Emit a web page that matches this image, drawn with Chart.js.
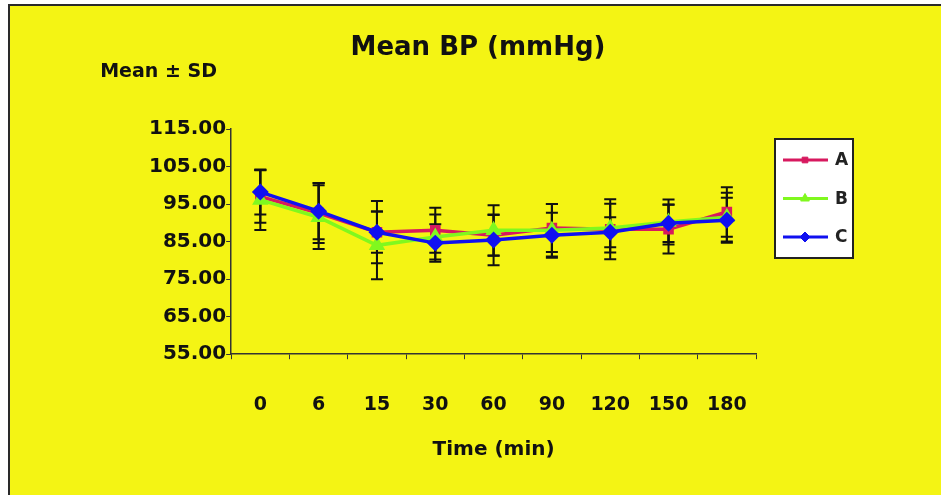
<!DOCTYPE html>
<html>
<head>
<meta charset="utf-8">
<script src="https://cdn.jsdelivr.net/npm/chart.js@4.4.0/dist/chart.umd.min.js"></script>
<style>
  body { margin: 0; background: #fff; }
  #frame {
    position: absolute; left: 8px; top: 4px;
    width: 931px; height: 489px;
    border-left: 2px solid #2a2a2a; border-top: 2px solid #2a2a2a;
    background: #f4f414;
  }
  canvas { display: block; }
</style>
</head>
<body>
<div id="frame"><canvas id="bpChart" width="931" height="489"></canvas></div>
<script>
// time points (min)
var labels = ['0', '6', '15', '30', '60', '90', '120', '150', '180'];

// mean BP per group
var meanA = [97.0, 92.6, 87.5, 88.0, 86.7, 88.6, 88.3, 88.3, 92.9];
var meanB = [96.1, 91.5, 84.0, 86.2, 88.0, 88.0, 88.6, 90.2, 91.5];
var meanC = [98.2, 93.1, 87.5, 84.6, 85.4, 86.7, 87.5, 89.9, 90.7];

// standard deviations
var sdA = [7.0, 8.0, 8.3, 6.0, 5.5, 6.4, 8.0, 6.5, 6.6];
var sdB = [8.0, 8.5, 9.0, 6.0, 6.7, 7.0, 6.5, 6.0, 6.5];
var sdC = [6.0, 7.5, 5.5, 5.0, 6.7, 6.0, 4.0, 5.0, 6.0];

var yMin = 55, yMax = 115, yStep = 10;

var FONT = "'DejaVu Sans', sans-serif";

// black +/- SD whiskers, drawn under the lines
var errorBars = {
  id: 'errorBars',
  beforeDatasetsDraw: function(chart) {
    var ctx = chart.ctx, y = chart.scales.y;
    ctx.save();
    ctx.strokeStyle = '#111';
    ctx.lineWidth = 2;
    chart.data.datasets.forEach(function(ds, di) {
      var meta = chart.getDatasetMeta(di);
      ds.data.forEach(function(v, i) {
        var px = meta.data[i].x;
        var top = y.getPixelForValue(v + ds.sd[i]);
        var bot = y.getPixelForValue(v - ds.sd[i]);
        ctx.beginPath();
        ctx.moveTo(px, top); ctx.lineTo(px, bot);
        ctx.moveTo(px - 6, top); ctx.lineTo(px + 6, top);
        ctx.moveTo(px - 6, bot); ctx.lineTo(px + 6, bot);
        ctx.stroke();
      });
    });
    ctx.restore();
  }
};

// title, "Mean ± SD" label and the boxed legend
var extras = {
  id: 'extras',
  afterDraw: function(chart) {
    var ctx = chart.ctx, area = chart.chartArea;
    ctx.save();
    ctx.fillStyle = '#111';
    ctx.textBaseline = 'middle';
    ctx.font = 'bold 26px ' + FONT;
    ctx.textAlign = 'center';
    ctx.fillText('Mean BP (mmHg)', 468, 42);

    ctx.font = 'bold 19px ' + FONT;
    ctx.textAlign = 'left';
    ctx.fillText('Mean ± SD', area.left - 131, 66);

    var bx = area.right + 19, by = area.top + 10, bw = 78, bh = 119;
    ctx.fillStyle = '#fff';
    ctx.fillRect(bx, by, bw, bh);
    ctx.strokeStyle = '#222';
    ctx.lineWidth = 2;
    ctx.strokeRect(bx, by, bw, bh);

    chart.data.datasets.forEach(function(ds, i) {
      var iy = by + 21 + i * 38.5;
      ctx.strokeStyle = ds.borderColor;
      ctx.lineWidth = 3;
      ctx.beginPath();
      ctx.moveTo(bx + 8, iy); ctx.lineTo(bx + 53, iy);
      ctx.stroke();
      ctx.fillStyle = ds.pointBackgroundColor;
      ctx.lineWidth = 1;
      Chart.helpers.drawPoint(ctx, {pointStyle: ds.pointStyle, radius: ds.pointRadius - 1, rotation: 0, borderWidth: 1}, bx + 30, iy);
      ctx.fillStyle = '#222';
      ctx.font = 'bold 17px ' + FONT;
      ctx.fillText(ds.label, bx + 60, iy + 1);
    });
    ctx.restore();
  }
};

var ctx = document.getElementById('bpChart').getContext('2d');
var myChart = new Chart(ctx, {
  type: 'line',
  data: {
    labels: labels,
    datasets: [{
      label: 'A',
      data: meanA,
      sd: sdA,
      borderColor: '#d7195f',
      backgroundColor: '#d7195f',
      pointBackgroundColor: '#d7195f',
      pointBorderColor: '#d7195f',
      pointStyle: 'rect',
      pointRadius: 5,
      borderWidth: 3.5,
      order: 2
    }, {
      label: 'B',
      data: meanB,
      sd: sdB,
      borderColor: '#80f81e',
      backgroundColor: '#80f81e',
      pointBackgroundColor: '#80f81e',
      pointBorderColor: '#80f81e',
      pointStyle: 'triangle',
      pointRadius: 6,
      borderWidth: 3.5,
      order: 1
    }, {
      label: 'C',
      data: meanC,
      sd: sdC,
      borderColor: '#1010f0',
      backgroundColor: '#1010f0',
      pointBackgroundColor: '#1010f0',
      pointBorderColor: '#1010f0',
      pointStyle: 'rectRot',
      pointRadius: 6,
      borderWidth: 3.5,
      order: 0
    }]
  },
  options: {
    responsive: false,
    animation: false,
    layout: { padding: { left: 139, right: 185, top: 123, bottom: 0 } },
    plugins: {
      legend: { display: false },
      tooltip: { enabled: false },
      title: { display: false }
    },
    scales: {
      x: {
        offset: true,
        grid: { offset: true, drawOnChartArea: false, tickLength: 5, color: '#333' },
        border: { color: '#333', width: 1.5 },
        ticks: { color: '#111', padding: 34, font: { family: FONT, size: 19, weight: 'bold' } },
        title: {
          display: true,
          text: 'Time (min)',
          color: '#111',
          font: { family: FONT, size: 20, weight: 'bold' },
          padding: { top: -12, bottom: 33 }
        }
      },
      y: {
        min: yMin,
        max: yMax,
        grid: { drawOnChartArea: false, tickLength: 5, color: '#333' },
        border: { color: '#333', width: 1.5 },
        ticks: {
          stepSize: yStep,
          color: '#111',
          padding: 0,
          font: { family: FONT, size: 20, weight: 'bold' },
          callback: function(v) { return v.toFixed(2); }
        }
      }
    }
  },
  plugins: [errorBars, extras]
});
</script>
</body>
</html>
